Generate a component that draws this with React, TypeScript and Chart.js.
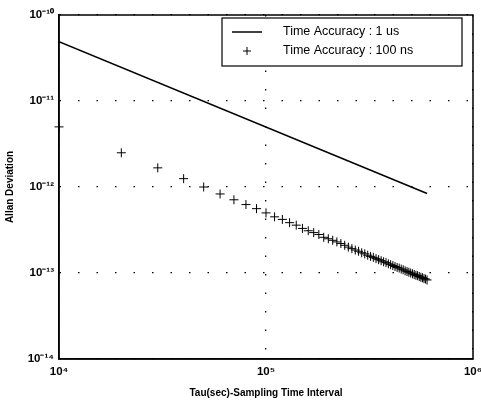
import React, { useEffect, useRef } from "react";
import { Chart, registerables } from "chart.js";

Chart.register(...registerables);

const lineTau = [1e4, 6e5];
const lineDev = [4.9e-11, 8.4e-13];

const plusTau = [
  1e4, 2e4, 3e4, 4e4, 5e4, 6e4, 7e4, 8e4, 9e4, 1e5,
  1.1e5, 1.2e5, 1.3e5, 1.4e5, 1.5e5, 1.6e5, 1.7e5, 1.8e5, 1.9e5, 2e5,
  2.1e5, 2.2e5, 2.3e5, 2.4e5, 2.5e5, 2.6e5, 2.7e5, 2.8e5, 2.9e5, 3e5,
  3.1e5, 3.2e5, 3.3e5, 3.4e5, 3.5e5, 3.6e5, 3.7e5, 3.8e5, 3.9e5, 4e5,
  4.1e5, 4.2e5, 4.3e5, 4.4e5, 4.5e5, 4.6e5, 4.7e5, 4.8e5, 4.9e5, 5e5,
  5.1e5, 5.2e5, 5.3e5, 5.4e5, 5.5e5, 5.6e5, 5.7e5, 5.8e5, 5.9e5, 6e5,
];
const plusDev = [
  5.0e-12, 2.5e-12, 1.67e-12, 1.25e-12, 1.0e-12, 8.3e-13, 7.1e-13, 6.25e-13, 5.6e-13, 5.0e-13,
  4.5e-13, 4.2e-13, 3.85e-13, 3.6e-13, 3.3e-13, 3.1e-13, 2.95e-13, 2.8e-13, 2.6e-13, 2.5e-13,
  2.4e-13, 2.3e-13, 2.2e-13, 2.1e-13, 2.0e-13, 1.92e-13, 1.85e-13, 1.79e-13, 1.72e-13, 1.67e-13,
  1.61e-13, 1.56e-13, 1.52e-13, 1.47e-13, 1.43e-13, 1.39e-13, 1.35e-13, 1.32e-13, 1.28e-13, 1.25e-13,
  1.22e-13, 1.19e-13, 1.16e-13, 1.14e-13, 1.11e-13, 1.09e-13, 1.06e-13, 1.04e-13, 1.02e-13, 1.0e-13,
  9.8e-14, 9.6e-14, 9.4e-14, 9.3e-14, 9.1e-14, 8.9e-14, 8.8e-14, 8.6e-14, 8.5e-14, 8.3e-14,
];

const xTicks = [1e4, 1e5, 1e6];
const yTicks = [1e-14, 1e-13, 1e-12, 1e-11, 1e-10];
const legendLabels = ["Time Accuracy : 1 us", "Time Accuracy : 100 ns"];

const SUP: Record<string, string> = {
  "-": "\u207B", "0": "\u2070", "1": "\u00B9", "2": "\u00B2", "3": "\u00B3",
  "4": "\u2074", "5": "\u2075", "6": "\u2076", "7": "\u2077", "8": "\u2078", "9": "\u2079",
};
const powLabel = (v: number) => {
  const e = String(Math.round(Math.log10(v)));
  return "10" + e.split("").map((c) => SUP[c] || c).join("");
};

const FONT = "'Liberation Sans', Arial, sans-serif";

const boxLegend = {
  id: "boxLegend",
  afterDraw(chart: any) {
    const { ctx, chartArea: a } = chart;
    ctx.save();
    ctx.setLineDash([]);
    // frame
    ctx.strokeStyle = "#000";
    ctx.lineWidth = 1.5;
    ctx.strokeRect(a.left, a.top, a.right - a.left, a.bottom - a.top);
    // legend box
    const bx = 222, by = 18, bw = 240, bh = 48;
    ctx.fillStyle = "#fff";
    ctx.fillRect(bx, by, bw, bh);
    ctx.lineWidth = 1.2;
    ctx.strokeRect(bx, by, bw, bh);
    ctx.fillStyle = "#000";
    ctx.font = `12.5px ${FONT}`;
    ctx.textBaseline = "middle";
    ctx.textAlign = "left";
    // line sample
    ctx.lineWidth = 1.5;
    ctx.beginPath();
    ctx.moveTo(232, 32);
    ctx.lineTo(262, 32);
    ctx.stroke();
    ctx.fillText(legendLabels[0], 283, 32);
    // plus sample
    ctx.lineWidth = 1;
    ctx.beginPath();
    ctx.moveTo(243, 51);
    ctx.lineTo(251, 51);
    ctx.moveTo(247, 47);
    ctx.lineTo(247, 55);
    ctx.stroke();
    ctx.fillText(legendLabels[1], 283, 51);
    ctx.restore();
  },
};

export default function App() {
  const ref = useRef<HTMLCanvasElement>(null);
  useEffect(() => {
    document.body.style.margin = "0";
    const chart = new Chart(ref.current!, {
      type: "scatter",
      data: {
        datasets: [
          {
            type: "line",
            label: legendLabels[0],
            data: lineTau.map((x, i) => ({ x, y: lineDev[i] })),
            borderColor: "#000",
            borderWidth: 1.5,
            pointRadius: 0,
            showLine: true,
          } as any,
          {
            label: legendLabels[1],
            data: plusTau.map((x, i) => ({ x, y: plusDev[i] })),
            pointStyle: "cross",
            pointRadius: 4.5,
            borderColor: "#000",
            backgroundColor: "#000",
            pointBorderWidth: 1,
            clip: false,
          } as any,
        ],
      },
      options: {
        animation: false,
        responsive: false,
        devicePixelRatio: 1,
        layout: { padding: { left: 0, top: 15, right: 8, bottom: 0 } },
        plugins: { legend: { display: false }, tooltip: { enabled: false } },
        scales: {
          x: {
            type: "logarithmic",
            min: 1e4,
            max: 1e6,
            afterBuildTicks: (s: any) => {
              s.ticks = xTicks.map((v) => ({ value: v, major: true }));
            },
            afterFit: (s: any) => {
              s.height = 44;
              s.paddingRight = 0;
              s.paddingLeft = 0;
            },
            ticks: {
              callback: (v: any) => powLabel(Number(v)),
              color: "#000",
              font: { family: FONT, size: 11.5, weight: "bold" },
              maxRotation: 0,
              autoSkip: false,
              padding: 6,
            },
            grid: {
              color: "#000",
              lineWidth: 1.3,
              drawTicks: false,
            } as any,
            border: { display: true, color: "#000", width: 1.5, dash: [1.5, 17] } as any,
            title: {
              display: true,
              text: "Tau(sec)-Sampling Time Interval",
              color: "#000",
              font: { family: FONT, size: 10, weight: "bold" },
              padding: { top: 4, bottom: 4 },
            },
          },
          y: {
            type: "logarithmic",
            min: 1e-14,
            max: 1e-10,
            afterBuildTicks: (s: any) => {
              s.ticks = yTicks.map((v) => ({ value: v, major: true }));
            },
            afterFit: (s: any) => {
              s.width = 59;
            },
            ticks: {
              callback: (v: any) => powLabel(Number(v)),
              color: "#000",
              font: { family: FONT, size: 11.5, weight: "bold" },
              autoSkip: false,
              padding: 5,
            },
            grid: {
              color: "#000",
              lineWidth: 1.3,
              drawTicks: false,
            } as any,
            border: { display: true, color: "#000", width: 1.5, dash: [1.5, 17] } as any,
            title: {
              display: true,
              text: "Allan Deviation",
              color: "#000",
              font: { family: FONT, size: 10, weight: "bold" },
              padding: { top: 4, bottom: 2 },
            },
          },
        },
      },
      plugins: [boxLegend],
    });
    return () => chart.destroy();
  }, []);
  return (
    <div style={{ position: "absolute", left: 0, top: 0, width: 481, height: 403, background: "#fff" }}>
      <canvas ref={ref} width={481} height={403} style={{ width: 481, height: 403 }} />
    </div>
  );
}
